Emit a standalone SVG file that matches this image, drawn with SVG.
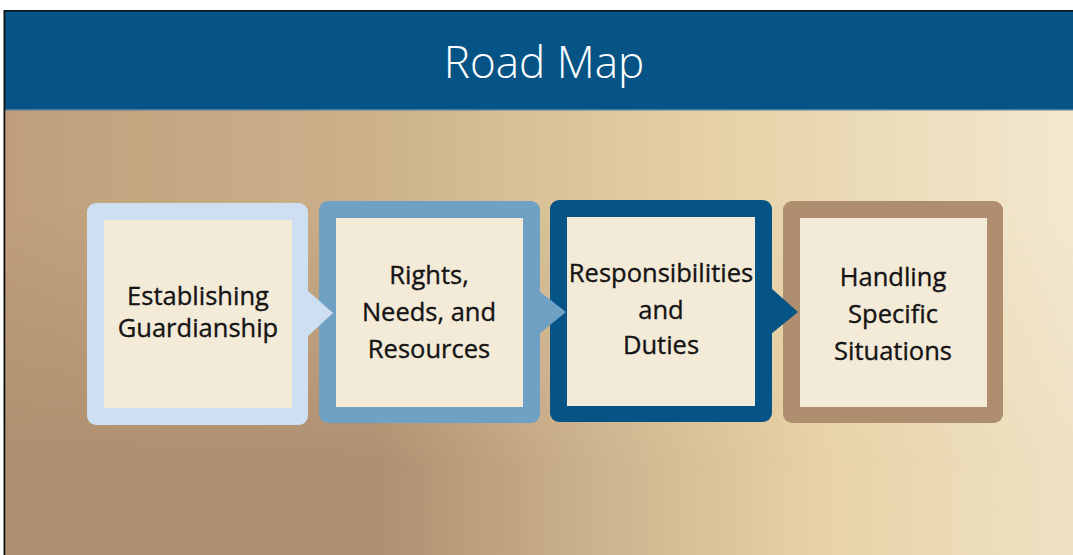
<svg xmlns="http://www.w3.org/2000/svg" width="1073" height="555" viewBox="0 0 1073 555">
  <defs>
    <!-- backdrop: warm tan fading to cream, lighter near the top -->
    <linearGradient id="bgBottom" gradientUnits="userSpaceOnUse" x1="0" y1="0" x2="1073" y2="0">
      <stop offset="0" stop-color="#ae8f70"/>
      <stop offset="0.35" stop-color="#ae8f70"/>
      <stop offset="0.56" stop-color="#cdb38e"/>
      <stop offset="0.77" stop-color="#e8d3a6"/>
      <stop offset="1" stop-color="#efe1c4"/>
    </linearGradient>
    <linearGradient id="bgTop" gradientUnits="userSpaceOnUse" x1="0" y1="0" x2="1073" y2="0">
      <stop offset="0" stop-color="#bf9f7b"/>
      <stop offset="0.33" stop-color="#cbb08a"/>
      <stop offset="0.67" stop-color="#e6d2a6"/>
      <stop offset="1" stop-color="#f3e8d0"/>
    </linearGradient>
    <linearGradient id="fadeDown" gradientUnits="userSpaceOnUse" x1="0" y1="110" x2="0" y2="470">
      <stop offset="0" stop-color="#ffffff"/>
      <stop offset="0.25" stop-color="#ffffff"/>
      <stop offset="1" stop-color="#000000"/>
    </linearGradient>
    <mask id="topMask" maskUnits="userSpaceOnUse" x="0" y="0" width="1073" height="555">
      <rect x="0" y="0" width="1073" height="555" fill="url(#fadeDown)"/>
    </mask>
    <style>
      .inner { fill: #f4ead8; }
      .label { font-family: "Open Sans", "Liberation Sans", sans-serif; font-size: 25.5px; fill: #141414; stroke: #141414; stroke-width: 0.35px; text-anchor: middle; }
      .title { font-family: "Open Sans", "Liberation Sans", sans-serif; font-size: 44px; fill: #ffffff; text-anchor: middle; font-weight: 300; }
    </style>
  </defs>

  <!-- page -->
  <rect x="0" y="0" width="1073" height="555" fill="#ffffff"/>
  <rect x="5" y="11" width="1068" height="544" fill="url(#bgBottom)"/>
  <rect x="5" y="11" width="1068" height="544" fill="url(#bgTop)" mask="url(#topMask)"/>

  <!-- header band -->
  <rect x="5" y="11" width="1068" height="98" fill="#065486"/>
  <rect x="5" y="109" width="1068" height="1.5" fill="#4c7d9f"/>
  <text class="title" x="544" y="78">Road Map</text>

  <!-- frame edges -->
  <rect x="4" y="10" width="1069" height="1.5" fill="#111111"/>
  <rect x="3.5" y="10" width="1.8" height="545" fill="#111111"/>

  <!-- steps -->
  <g id="step1">
    <rect x="87" y="203" width="221" height="222" rx="9" fill="#cddff0"/>
    <rect class="inner" x="104" y="220" width="188" height="188"/>
    <text class="label" x="198" y="305">Establishing</text>
    <text class="label" x="198" y="337">Guardianship</text>
  </g>

  <g id="step2">
    <rect x="319" y="201" width="221" height="222" rx="9" fill="#6ea1c4"/>
    <rect class="inner" x="336" y="218" width="187" height="189"/>
    <text class="label" x="429" y="284">Rights,</text>
    <text class="label" x="429" y="321">Needs, and</text>
    <text class="label" x="429" y="358">Resources</text>
  </g>

  <g id="step3">
    <rect x="550" y="200" width="222" height="222" rx="9" fill="#065486"/>
    <rect class="inner" x="567" y="217" width="188" height="189"/>
    <text class="label" x="661" y="282">Responsibilities</text>
    <text class="label" x="661" y="319">and</text>
    <text class="label" x="661" y="354">Duties</text>
  </g>

  <g id="step4">
    <rect x="783" y="201" width="220" height="222" rx="9" fill="#ae8e6e"/>
    <rect class="inner" x="800" y="218" width="187" height="189"/>
    <text class="label" x="893" y="286">Handling</text>
    <text class="label" x="893" y="323">Specific</text>
    <text class="label" x="893" y="360">Situations</text>
  </g>

  <!-- chevron pointers from each step into the next -->
  <g id="connectors">
    <polygon points="307,290 333,313 307,337" fill="#cddff0"/>
    <polygon points="539,291 566,312 539,334" fill="#6ea1c4"/>
    <polygon points="771,288 798,312 771,334" fill="#065486"/>
  </g>
</svg>
